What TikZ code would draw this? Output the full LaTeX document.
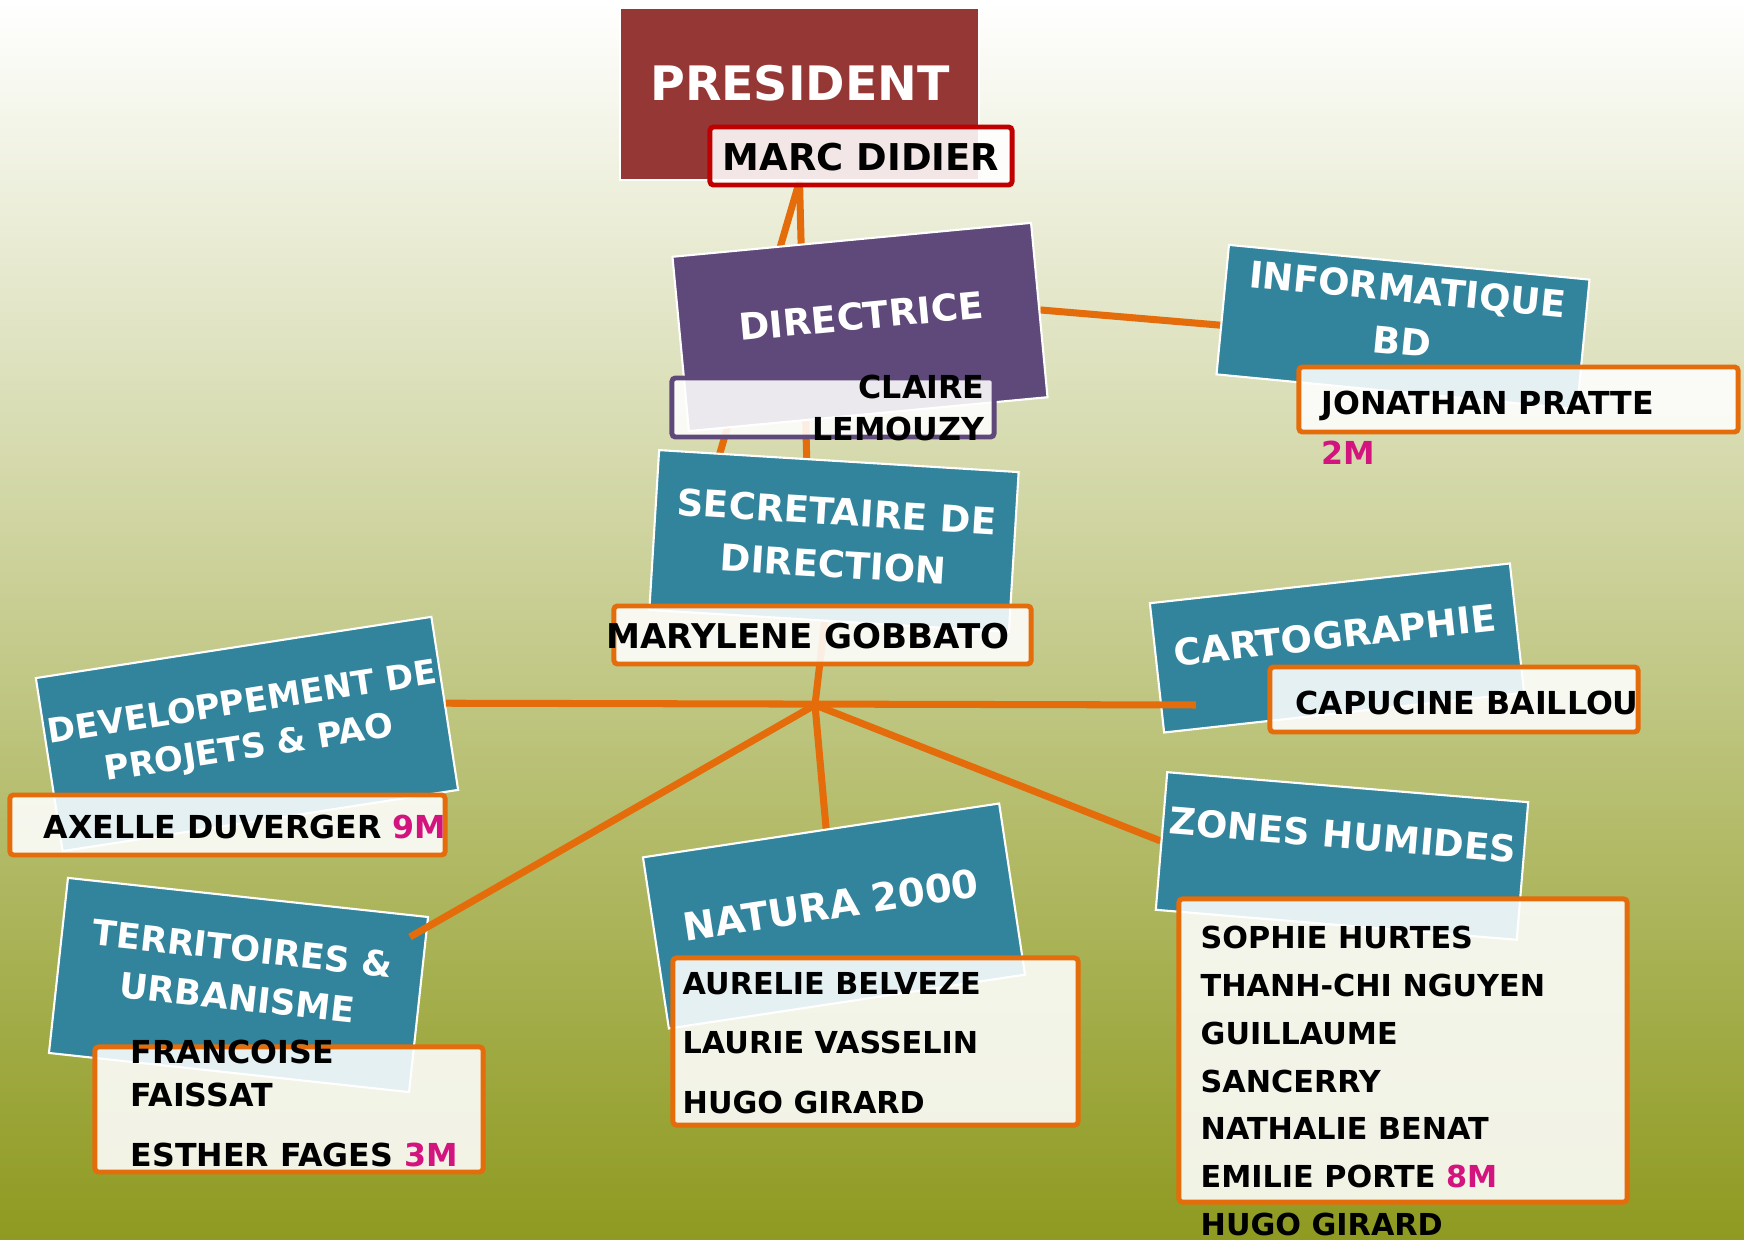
\documentclass[tikz,border=0pt]{standalone}
\usepackage{fontspec}
\setmainfont{DejaVu Sans}
\usepackage{xcolor}
\usepackage{tikz}
\usetikzlibrary{backgrounds}

\definecolor{orga}{HTML}{E46C0A}
\definecolor{tealb}{HTML}{31849B}
\definecolor{purp}{HTML}{5F497A}
\definecolor{wine}{HTML}{953735}
\definecolor{redb}{HTML}{C00000}
\definecolor{mag}{HTML}{D4147E}
\definecolor{sage}{RGB}{202,205,144}
\definecolor{olive}{RGB}{142,154,32}

\newcommand{\mm}[1]{\textcolor{mag}{#1}}

\begin{document}
\begin{tikzpicture}[x=0.01cm,y=-0.01cm,
    box/.style={draw=white,line width=0.6pt,inner sep=0pt},
    head/.style={text=white,font=\bfseries\fontsize{10.5}{15}\selectfont,align=center,inner sep=0pt},
    who/.style={draw=orga,line width=1.4pt,fill=white,fill opacity=0.88,rounded corners=1pt,inner sep=0pt},
    nm/.style={anchor=west,font=\bfseries\fontsize{9}{12.2}\selectfont,align=left,inner sep=0pt},
    link/.style={orga,line width=2pt}]
  \useasboundingbox (0,0) rectangle (1744,1240);
  \begin{scope}[on background layer]
    \shade[top color=white,middle color=sage,bottom color=olive] (0,0) rectangle (1744,1240);
  \end{scope}

  % top of the chart
  \node[box,fill=wine,minimum width=3.59cm,minimum height=1.72cm] (pres) at (799.5,94) {};
  \node[head,font=\bfseries\fontsize{13.5}{16}\selectfont] (prest) at (800,83) {PRESIDENT};
  \node[who,draw=redb,minimum width=3.02cm,minimum height=0.58cm] (md) at (861,156) {};
  \node[nm,anchor=center,font=\bfseries\fontsize{10.5}{12}\selectfont] (mdt) at (861,157) {MARC DIDIER};

  \node[box,fill=purp,rotate=5.4,minimum width=3.6cm,minimum height=1.75cm] (dir) at (860,327) {};
  \node[head,rotate=5.4] (dirt) at (861,316) {DIRECTRICE};
  \node[who,draw=purp,minimum width=3.22cm,minimum height=0.59cm] (clm) at (833,407.5) {};
  \node[nm,anchor=east,align=right] (clmt) at (985,408) {CLAIRE\\LEMOUZY};

  \node[box,fill=tealb,rotate=-3.5,minimum width=3.6cm,minimum height=1.6cm] (sec) at (834,541) {};
  \node[head,rotate=-3.5] (sect) at (835,538) {SECRETAIRE DE\\DIRECTION};
  \node[who,minimum width=4.17cm,minimum height=0.58cm] (mgob) at (822.5,635) {};
  \node[nm,anchor=center,font=\bfseries\fontsize{9.7}{12}\selectfont] (mgobt) at (808,636) {MARYLENE GOBBATO};

  \node[box,fill=tealb,rotate=-5.5,minimum width=3.62cm,minimum height=1.3cm] (info) at (1403,327) {};
  \node[head,rotate=-5.5] (infot) at (1405,315) {INFORMATIQUE\\BD};
  \node[who,minimum width=4.39cm,minimum height=0.65cm] (jp) at (1518.5,399.5) {};
  \node[nm] (jpt) at (1321,428) {JONATHAN PRATTE\\[2pt]\mm{2M}};

  % services
  \node[box,fill=tealb,rotate=8.8,minimum width=4cm,minimum height=1.75cm] (dev) at (247,734) {};
  \node[head,rotate=8.8,font=\bfseries\fontsize{9.6}{13}\selectfont] (devt) at (246,727) {DEVELOPPEMENT DE\\PROJETS \& PAO};
  \node[who,minimum width=4.35cm,minimum height=0.6cm] (ax) at (227.5,825) {};
  \node[nm] (axt) at (43,827) {AXELLE DUVERGER \mm{9M}};

  \node[box,fill=tealb,rotate=6.3,minimum width=3.62cm,minimum height=1.3cm] (carto) at (1337,648) {};
  \node[head,rotate=6.3] (cartot) at (1335,635) {CARTOGRAPHIE};
  \node[who,minimum width=3.68cm,minimum height=0.65cm] (cap) at (1454,699.5) {};
  \node[nm] (capt) at (1295,703) {CAPUCINE BAILLOU};

  \node[box,fill=tealb,rotate=-6.2,minimum width=3.62cm,minimum height=1.76cm] (terr) at (238.5,985) {};
  \node[head,rotate=-6.2,font=\bfseries\fontsize{10}{14}\selectfont] (terrt) at (240,973) {TERRITOIRES \&\\URBANISME};
  \node[who,minimum width=3.88cm,minimum height=1.25cm] (ff) at (289,1109.5) {};
  \node[nm] (fft) at (130,1103.5) {FRANCOISE\\FAISSAT\\[4.8pt]ESTHER FAGES \mm{3M}};

  \node[box,fill=tealb,rotate=8.6,minimum width=3.6cm,minimum height=1.73cm] (nat) at (834,916) {};
  \node[head,rotate=8.6,font=\bfseries\fontsize{11}{14}\selectfont] (natt) at (831,905) {NATURA 2000};
  \node[who,minimum width=4.05cm,minimum height=1.67cm] (natl) at (875.5,1041.5) {};
  \node[nm,font=\bfseries\fontsize{8.6}{17}\selectfont] (natlt) at (682,1043) {AURELIE BELVEZE\\LAURIE VASSELIN\\HUGO GIRARD};

  \node[box,fill=tealb,rotate=-4.75,minimum width=3.62cm,minimum height=1.38cm] (zon) at (1342,856) {};
  \node[head,rotate=-4.75] (zont) at (1343,835) {ZONES HUMIDES};
  \node[who,minimum width=4.48cm,minimum height=3.03cm] (zonl) at (1403,1050.5) {};
  \node[nm,font=\bfseries\fontsize{8.6}{13.6}\selectfont] (zonlt) at (1200,1081)
    {SOPHIE HURTES\\THANH-CHI NGUYEN\\GUILLAUME\\SANCERRY\\NATHALIE BENAT\\EMILIE PORTE \mm{8M}\\HUGO GIRARD};

  % links
  \coordinate (hub) at (815,705);
  \coordinate (p1) at (807,470);
  \coordinate (p2) at (715,470);
  \coordinate (i1) at (1230,326);
  \coordinate (c1) at (1196,705);
  \coordinate (t1) at (410,937);
  \begin{scope}[on background layer]
    \draw[link] (pres.south) -- (p1);
    \draw[link] (pres.south) -- (p2);
    \draw[link] (dir.east) -- (i1);
    \draw[link] (sec) -- (hub);
    \draw[link] (hub) -- (nat);
    \draw[link] (hub) -- (zon.west);
  \end{scope}
  \draw[link] (dev.east) -- (c1);
  \draw[link] (hub) -- (t1);
\end{tikzpicture}
\end{document}
